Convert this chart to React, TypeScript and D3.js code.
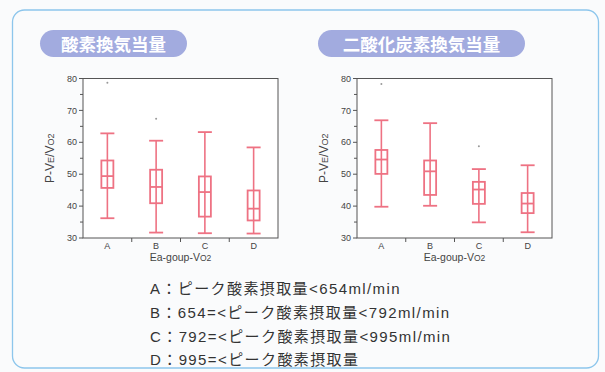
import React from "react";
import * as d3 from "d3";

const categories = ["A", "B", "C", "D"];
const yTicks = [30, 40, 50, 60, 70, 80];
const yMinorTicks = [35, 45, 55, 65, 75];

// 酸素換気当量
const o2WhiskerHigh = [62.8, 60.5, 63.2, 58.4];
const o2Q3 = [54.3, 51.4, 49.3, 44.9];
const o2Median = [49.4, 46.0, 44.4, 39.2];
const o2Q1 = [45.7, 40.9, 36.7, 35.5];
const o2WhiskerLow = [36.2, 31.7, 31.5, 31.4];
const o2Outliers = [
  { cat: "A", v: 78.7 },
  { cat: "B", v: 67.4 },
];

// 二酸化炭素換気当量
const co2WhiskerHigh = [66.9, 66.0, 51.6, 52.8];
const co2Q3 = [57.6, 54.3, 47.6, 44.1];
const co2Median = [54.6, 50.9, 45.2, 40.8];
const co2Q1 = [50.1, 43.5, 40.7, 37.8];
const co2WhiskerLow = [39.8, 40.1, 34.9, 31.8];
const co2Outliers = [
  { cat: "A", v: 78.3 },
  { cat: "C", v: 58.8 },
];

const legendLines = [
  "A：ピーク酸素摂取量<654ml/min",
  "B：654=<ピーク酸素摂取量<792ml/min",
  "C：792=<ピーク酸素摂取量<995ml/min",
  "D：995=<ピーク酸素摂取量",
];

const titles = ["酸素換気当量", "二酸化炭素換気当量"];

const BOX = "#ee7283";
const AXIS = "#555";
const TXT = "#444";
const FONT = "'Liberation Sans', Arial, 'Noto Sans CJK JP', sans-serif";

type PanelProps = {
  x0: number;
  x1: number;
  hi: number[];
  q3: number[];
  med: number[];
  q1: number[];
  lo: number[];
  outliers: { cat: string; v: number }[];
};

function Panel({ x0, x1, hi, q3, med, q1, lo, outliers }: PanelProps) {
  const top = 78.5;
  const bottom = 238;
  const x = d3.scaleBand<string>().domain(categories).range([x0, x1]);
  const y = d3.scaleLinear().domain([30, 80]).range([bottom, top]);
  const bw = 12;
  const cw = 14;
  return (
    <g fontFamily={FONT}>
      <rect x={x0} y={top} width={x1 - x0} height={bottom - top} fill="#fff" stroke={AXIS} strokeWidth={1} />
      {yTicks.map((t) => (
        <g key={t}>
          <line x1={x0 - 4} x2={x0} y1={y(t)} y2={y(t)} stroke={AXIS} />
          <text x={x0 - 6} y={y(t)} dy="0.35em" textAnchor="end" fontSize={9} fill={TXT}>
            {t}
          </text>
        </g>
      ))}
      {yMinorTicks.map((t) => (
        <line key={t} x1={x0 - 3} x2={x0} y1={y(t)} y2={y(t)} stroke={AXIS} />
      ))}
      {categories.slice(1).map((c) => (
        <line key={c} x1={x(c)!} x2={x(c)!} y1={bottom} y2={bottom + 4} stroke={AXIS} />
      ))}
      {categories.map((c) => (
        <text key={c} x={x(c)! + x.bandwidth() / 2} y={bottom + 11} textAnchor="middle" fontSize={9} fill={TXT}>
          {c}
        </text>
      ))}
      {categories.map((c, i) => {
        const cx = x(c)! + x.bandwidth() / 2;
        return (
          <g key={c} stroke={BOX} fill="none">
            <line x1={cx} x2={cx} y1={y(hi[i])} y2={y(lo[i])} strokeWidth={1.6} />
            <line x1={cx - cw / 2} x2={cx + cw / 2} y1={y(hi[i])} y2={y(hi[i])} strokeWidth={1.8} />
            <line x1={cx - cw / 2} x2={cx + cw / 2} y1={y(lo[i])} y2={y(lo[i])} strokeWidth={1.8} />
            <rect x={cx - bw / 2} y={y(q3[i])} width={bw} height={y(q1[i]) - y(q3[i])} strokeWidth={1.8} />
            <line x1={cx - bw / 2} x2={cx + bw / 2} y1={y(med[i])} y2={y(med[i])} strokeWidth={1.8} />
          </g>
        );
      })}
      {outliers.map((o, i) => (
        <circle key={i} cx={x(o.cat)! + x.bandwidth() / 2} cy={y(o.v)} r={1} fill="#999" />
      ))}
      <text
        transform={`translate(${x0 - 29},${(top + bottom) / 2}) rotate(-90)`}
        textAnchor="middle"
        fontSize={12}
        fill={TXT}
      >
        P-V<tspan fontSize={9}>E</tspan>/V<tspan fontSize={9}>O2</tspan>
      </text>
      <text x={(x0 + x1) / 2} y={bottom + 23} textAnchor="middle" fontSize={10.5} fill={TXT}>
        Ea-goup-V<tspan fontSize={8.5}>O2</tspan>
      </text>
    </g>
  );
}

export default function App() {
  return (
    <svg width={605} height={372} style={{ position: "absolute", left: 0, top: 0 }}>
      <rect x={0} y={0} width={605} height={372} fill="#fafbfc" />
      <rect x={12.5} y={10} width={586} height={358} rx={12} fill="#fafbfc" stroke="#8dc6ec" strokeWidth={1.3} />
      <g>
        <rect x={40} y={30} width={147} height={27} rx={13.5} fill="#a2abdf" />
        <text x={113.5} y={50.5} textAnchor="middle" fontSize={17.5} fontWeight="bold" fill="#fff" fontFamily="'Noto Sans CJK JP', sans-serif">
          {titles[0]}
        </text>
        <rect x={318} y={30} width={207} height={27} rx={13.5} fill="#a2abdf" />
        <text x={421.5} y={50.5} textAnchor="middle" fontSize={17.5} fontWeight="bold" fill="#fff" fontFamily="'Noto Sans CJK JP', sans-serif">
          {titles[1]}
        </text>
      </g>
      <Panel x0={83} x1={278} hi={o2WhiskerHigh} q3={o2Q3} med={o2Median} q1={o2Q1} lo={o2WhiskerLow} outliers={o2Outliers} />
      <Panel x0={357} x1={552} hi={co2WhiskerHigh} q3={co2Q3} med={co2Median} q1={co2Q1} lo={co2WhiskerLow} outliers={co2Outliers} />
      <g fontFamily="'Liberation Sans', Arial, 'Noto Sans CJK JP', sans-serif" fontSize={15} letterSpacing={1.4} fill="#333">
        {legendLines.map((l, i) => (
          <text key={i} x={150} y={294 + i * 23.8}>
            {l}
          </text>
        ))}
      </g>
    </svg>
  );
}
